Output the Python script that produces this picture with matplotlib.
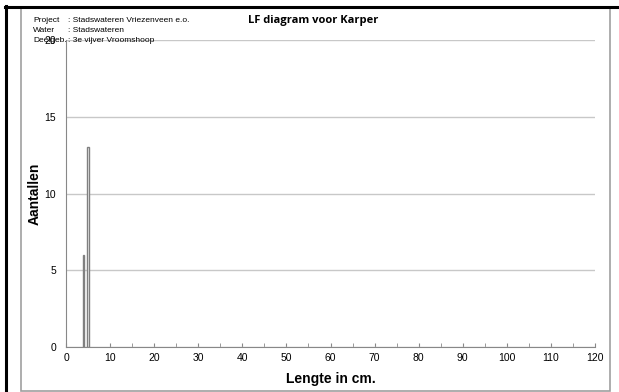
import matplotlib.pyplot as plt
from matplotlib.lines import Line2D
from matplotlib.patches import Rectangle
import numpy as np

lengths = [4, 5]
counts = [6, 13]
header_keys = ['Project', 'Water', 'Deelgeb.']
header_vals = [': Stadswateren Vriezenveen e.o.', ': Stadswateren', ': 3e vijver Vroomshoop']

W, H = 619, 392
fig = plt.figure(figsize=(W / 100, H / 100), dpi=100)
plt.rcParams['font.family'] = ['Liberation Sans', 'DejaVu Sans']

# frame around the chart (black on top/left, grey box)
fig.patches.append(Rectangle((20.5 / W, 1 - 391 / H), 589 / W, 384 / H, transform=fig.transFigure,
                             fill=False, edgecolor='#a0a0a0', linewidth=1.2))
fig.lines.append(Line2D([5 / W, 1], [1 - 6.5 / H] * 2, transform=fig.transFigure, color='black', linewidth=2.2))
fig.lines.append(Line2D([6 / W] * 2, [0, 1 - 5.5 / H], transform=fig.transFigure, color='black', linewidth=2.2))

ax = fig.add_axes([66 / W, 1 - 347 / H, 529 / W, 307 / H])
ax.bar(lengths, counts, width=0.35, color='white', edgecolor='#808080', linewidth=1.0, zorder=3)

ax.set_xlim(0, 120)
ax.set_ylim(0, 20)
ax.set_xticks(np.arange(0, 121, 10))
ax.set_xticks(np.arange(5, 121, 10), minor=True)
ax.set_yticks([0, 5, 10, 15, 20])
ax.yaxis.grid(True, color='#c8c8c8', linewidth=1)
ax.set_axisbelow(True)
for s in ['top', 'right']:
    ax.spines[s].set_visible(False)
for s in ['left', 'bottom']:
    ax.spines[s].set_color('#888888')
ax.tick_params(axis='x', which='both', direction='in', length=3, color='#888888', labelsize=7.5, pad=4)
ax.tick_params(axis='y', length=0, labelsize=7.5, pad=7)

ax.set_xlabel('Lengte in cm.', fontsize=10, fontweight='bold', labelpad=7)
ax.set_ylabel('Aantallen', fontsize=10, fontweight='bold', labelpad=2)

fig.text(313 / W, 1 - 20 / H, 'LF diagram voor Karper', ha='center', va='center',
         fontsize=8, fontweight='bold', family=['Open Sans', 'DejaVu Sans'])
for i, (k, v) in enumerate(zip(header_keys, header_vals)):
    y = 1 - (21 + i * 9.5) / H
    fig.text(33 / W, y, k, ha='left', va='center', fontsize=6)
    fig.text(68 / W, y, v, ha='left', va='center', fontsize=6)

plt.savefig('out.png', dpi=100)
